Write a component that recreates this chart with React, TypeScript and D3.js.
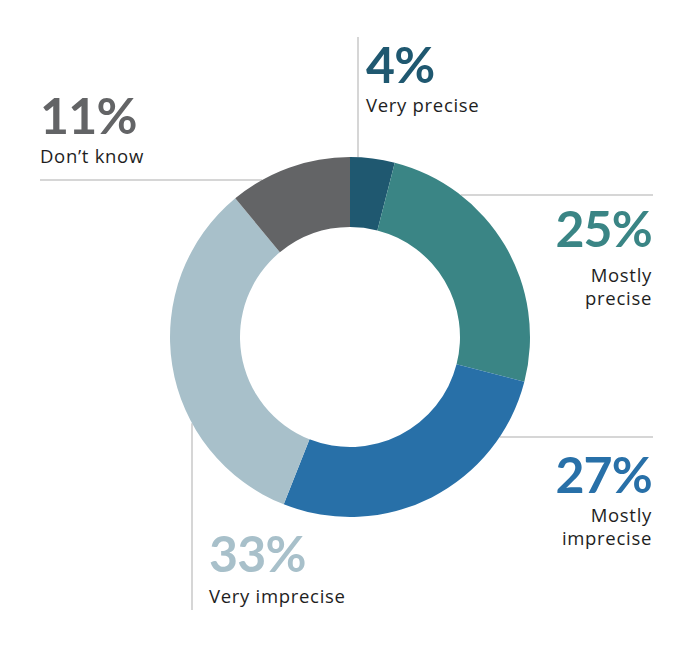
import React from "react";
import * as d3 from "d3";

const categories = ["Very precise", "Mostly precise", "Mostly imprecise", "Very imprecise", "Don't know"];
const values = [4, 25, 27, 33, 11];
const colors = ["#1f5870", "#3a8585", "#2870a8", "#a8c0ca", "#636466"];
const pctLabels = ["4%", "25%", "27%", "33%", "11%"];
const labelLines = [["Very precise"], ["Mostly", "precise"], ["Mostly", "imprecise"], ["Very imprecise"], ["Don\u2019t know"]];

const W = 700, H = 647;
const cx = 350, cy = 337, R = 180, r = 110;

export default function App() {
  const pie = d3.pie<number>().sort(null).value((d) => d)(values);
  const arc = d3.arc<d3.PieArcDatum<number>>().innerRadius(r).outerRadius(R);

  const lineColor = "#c8c8c8";
  const xAt = (y: number, side: number) => cx + side * Math.sqrt(Math.max(0, R * R - (y - cy) * (y - cy)));
  const yAt = (x: number, side: number) => cy + side * Math.sqrt(Math.max(0, R * R - (x - cx) * (x - cx)));

  const pctFont = { fontFamily: "Lato, 'Open Sans', sans-serif", fontWeight: 700, fontSize: 50, letterSpacing: -0.8 } as const;
  const lblFont = { fontFamily: "'Open Sans', Lato, sans-serif", fontWeight: 400, fontSize: 18.5, letterSpacing: 0.7, fill: "#1e1e1e" } as const;

  // label layout: [x, anchor, pctBaseline, firstLabelBaseline, lineGap]
  const layout: [number, "start" | "end", number, number, number][] = [
    [366, "start", 83, 112, 23],
    [652, "end", 247, 282, 23],
    [652, "end", 493, 522, 23],
    [209, "start", 572, 603, 23],
    [40, "start", 134, 163, 23],
  ];

  return (
    <svg width={W} height={H} style={{ position: "absolute", left: 0, top: 0, background: "#fff" }}>
      <g stroke={lineColor} strokeWidth={1.5}>
        <line x1={358} y1={37} x2={358} y2={yAt(358, -1)} />
        <line x1={40} y1={180} x2={xAt(180, -1)} y2={180} />
        <line x1={xAt(195, 1)} y1={195} x2={653} y2={195} />
        <line x1={xAt(437, 1)} y1={437} x2={653} y2={437} />
        <line x1={192} y1={yAt(192, 1)} x2={192} y2={610} />
      </g>
      <g transform={`translate(${cx},${cy})`}>
        {pie.map((p, i) => (
          <path key={categories[i]} d={arc(p) || ""} fill={colors[i]} />
        ))}
      </g>
      {layout.map(([x, anchor, pb, lb, gap], i) => (
        <g key={categories[i]}>
          <text x={x} y={pb} textAnchor={anchor} style={pctFont} fill={colors[i]}>
            {pctLabels[i]}
          </text>
          {labelLines[i].map((t, j) => (
            <text key={j} x={x} y={lb + j * gap} textAnchor={anchor} style={lblFont}>
              {t}
            </text>
          ))}
        </g>
      ))}
    </svg>
  );
}
